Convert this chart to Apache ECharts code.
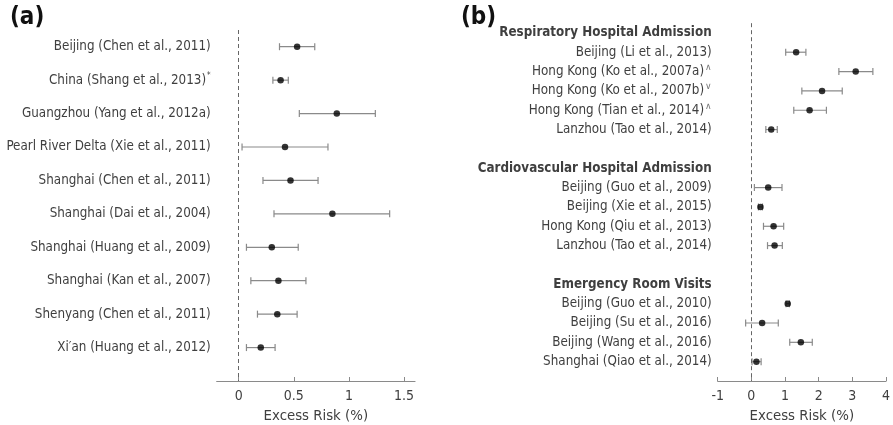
<!DOCTYPE html>
<html><head><meta charset="utf-8">
<script src="https://cdn.jsdelivr.net/npm/echarts@6/dist/echarts.min.js"></script>
<style>html,body{margin:0;padding:0;background:#fff}#c{width:893px;height:425px}</style>
</head><body><div id="c"></div>
<script>
// ---- Panel (a) data ----
const labelsA = ['Beijing (Chen et al., 2011)','China (Shang et al., 2013)','Guangzhou (Yang et al., 2012a)','Pearl River Delta (Xie et al., 2011)','Shanghai (Chen et al., 2011)','Shanghai (Dai et al., 2004)','Shanghai (Huang et al., 2009)','Shanghai (Kan et al., 2007)','Shenyang (Chen et al., 2011)',"Xi\u2032an (Huang et al., 2012)"];
const marksA = ['','*','','','','','','','',''];
const pointA = [0.53,0.38,0.89,0.42,0.47,0.85,0.30,0.36,0.35,0.20];
const lowA   = [0.37,0.31,0.55,0.03,0.22,0.32,0.07,0.11,0.17,0.07];
const highA  = [0.69,0.45,1.24,0.81,0.72,1.37,0.54,0.61,0.53,0.33];
const ticksA = [0,0.5,1,1.5];

// ---- Panel (b) data ----
const groupNamesB = ['Respiratory Hospital Admission','Cardiovascular Hospital Admission','Emergency Room Visits'];
const respLabels = ['Beijing (Li et al., 2013)','Hong Kong (Ko et al., 2007a)','Hong Kong (Ko et al., 2007b)','Hong Kong (Tian et al., 2014)','Lanzhou (Tao et al., 2014)'];
const respMarks  = ['','\u2227','\u2228','\u2227',''];
const respPoint  = [1.33,3.10,2.10,1.73,0.59];
const respLow    = [1.02,2.60,1.50,1.26,0.43];
const respHigh   = [1.62,3.61,2.70,2.23,0.77];
const cardioLabels = ['Beijing (Guo et al., 2009)','Beijing (Xie et al., 2015)','Hong Kong (Qiu et al., 2013)','Lanzhou (Tao et al., 2014)'];
const cardioMarks  = ['','','',''];
const cardioPoint  = [0.50,0.27,0.66,0.69];
const cardioLow    = [0.09,0.21,0.36,0.48];
const cardioHigh   = [0.91,0.33,0.96,0.92];
const erLabels = ['Beijing (Guo et al., 2010)','Beijing (Su et al., 2016)','Beijing (Wang et al., 2016)','Shanghai (Qiao et al., 2014)'];
const erMarks  = ['','','',''];
const erPoint  = [1.08,0.32,1.47,0.15];
const erLow    = [1.03,-0.17,1.14,0.02];
const erHigh   = [1.13,0.80,1.81,0.29];
const ticksB = [-1,0,1,2,3,4];

// ---- build rows ----
const rowsA = labelsA.map((l,i)=>({row:i,text:l,mark:marksA[i],p:pointA[i],lo:lowA[i],hi:highA[i]}));
const groupsB = [
  {labels:respLabels,marks:respMarks,p:respPoint,lo:respLow,hi:respHigh},
  {labels:cardioLabels,marks:cardioMarks,p:cardioPoint,lo:cardioLow,hi:cardioHigh},
  {labels:erLabels,marks:erMarks,p:erPoint,lo:erLow,hi:erHigh}
];
const rowsB = []; const headersB = {};
let r = 0;
groupsB.forEach((g,gi)=>{
  headersB[r] = groupNamesB[gi]; r++;
  g.labels.forEach((l,i)=>{ rowsB.push({row:r,text:l,mark:g.marks[i],p:g.p[i],lo:g.lo[i],hi:g.hi[i]}); r++; });
  r++;
});
const lastRowB = r - 2;

const FONT = 'DejaVu Sans Condensed';
const TXT = '#3f3f3f';

function labelFormatter(rows, headers){
  const map = {}; rows.forEach(o=>map[o.row]=o);
  return function(v){
    if (headers && headers[v] !== undefined) return '{h|' + headers[v] + '}';
    const o = map[v]; if (!o) return '';
    if (!o.mark) return '{n|' + o.text + '}';
    return '{n|' + o.text + '}' + (o.mark === '*' ? '{s|*}' : '{m|' + o.mark + '}');
  };
}
const rich = {
  n:{fontFamily:FONT,fontSize:13.3,color:TXT},
  h:{fontFamily:FONT,fontSize:13.3,fontWeight:'bold',color:TXT},
  s:{fontFamily:FONT,fontSize:8,color:TXT,verticalAlign:'top',padding:[0,0,9,1]},
  m:{fontFamily:'DejaVu Sans',fontSize:9,color:'#777',verticalAlign:'top',padding:[0,0,8,1]}
};

function errRender(params, api){
  const y = api.value(0), lo = api.value(1), hi = api.value(2);
  const a = api.coord([lo,y]), b = api.coord([hi,y]);
  const st = {stroke:'#8a8a8a',lineWidth:1.2};
  const c = 3.5;
  return {type:'group',children:[
    {type:'line',shape:{x1:a[0],y1:a[1],x2:b[0],y2:b[1]},style:st},
    {type:'line',shape:{x1:a[0],y1:a[1]-c,x2:a[0],y2:a[1]+c},style:st},
    {type:'line',shape:{x1:b[0],y1:b[1]-c,x2:b[0],y2:b[1]+c},style:st}
  ]};
}

function xAxisCfg(gi,min,max,ticks){
  return {gridIndex:gi,type:'value',position:'bottom',min:min,max:max,
    name:'Excess Risk (%)',nameLocation:'middle',nameGap:28,
    nameTextStyle:{fontFamily:FONT,fontSize:14.8,color:TXT},
    axisLine:{show:true,onZero:false,lineStyle:{color:'#8a8a8a',width:1.2}},
    axisTick:{show:true,inside:true,length:4,customValues:ticks,lineStyle:{color:'#8a8a8a'}},
    axisLabel:{customValues:ticks,fontFamily:FONT,fontSize:14,color:TXT,margin:8},
    splitLine:{show:false}};
}
function yAxisCfg(gi,max,rows,headers){
  const vals = []; for (let i=0;i<=Math.floor(max);i++) vals.push(i);
  return {gridIndex:gi,type:'value',inverse:true,min:-0.5,max:max,
    axisLine:{show:false,onZero:false},axisTick:{show:false},splitLine:{show:false},
    axisLabel:{customValues:vals,formatter:labelFormatter(rows,headers),rich:rich,margin:6}};
}

const chart = echarts.init(document.getElementById('c'),null,{renderer:'canvas'});
chart.setOption({
  animation:false,
  title:[
    {text:'(a)',left:5,top:1,textStyle:{fontFamily:FONT,fontSize:24,fontWeight:'bold',color:'#111'}},
    {text:'(b)',left:456,top:1,textStyle:{fontFamily:FONT,fontSize:24,fontWeight:'bold',color:'#111'}}
  ],
  grid:[
    {left:216.7,right:893-415,top:30,bottom:44,containLabel:false,outerBoundsMode:'none'},
    {left:717.7,right:7,top:23.2,bottom:44,containLabel:false,outerBoundsMode:'none'}
  ],
  xAxis:[xAxisCfg(0,-0.2,1.6,ticksA), xAxisCfg(1,-1,4,ticksB)],
  yAxis:[yAxisCfg(0,10,rowsA,null), yAxisCfg(1,lastRowB+1,rowsB,headersB)],
  series:[
    {type:'custom',xAxisIndex:0,yAxisIndex:0,renderItem:errRender,
     encode:{x:[1,2],y:0},data:rowsA.map(o=>[o.row,o.lo,o.hi]),
     markLine:{silent:true,symbol:'none',label:{show:false},lineStyle:{color:'#666',type:[4,3],width:1},data:[{xAxis:0}]}},
    {type:'scatter',xAxisIndex:0,yAxisIndex:0,symbolSize:6.5,itemStyle:{color:'#000'},
     data:rowsA.map(o=>[o.p,o.row])},
    {type:'custom',xAxisIndex:1,yAxisIndex:1,renderItem:errRender,
     encode:{x:[1,2],y:0},data:rowsB.map(o=>[o.row,o.lo,o.hi]),
     markLine:{silent:true,symbol:'none',label:{show:false},lineStyle:{color:'#666',type:[4,3],width:1},data:[{xAxis:0}]}},
    {type:'scatter',xAxisIndex:1,yAxisIndex:1,symbolSize:6.5,itemStyle:{color:'#000'},
     data:rowsB.map(o=>[o.p,o.row])}
  ]
});
</script></body></html>
